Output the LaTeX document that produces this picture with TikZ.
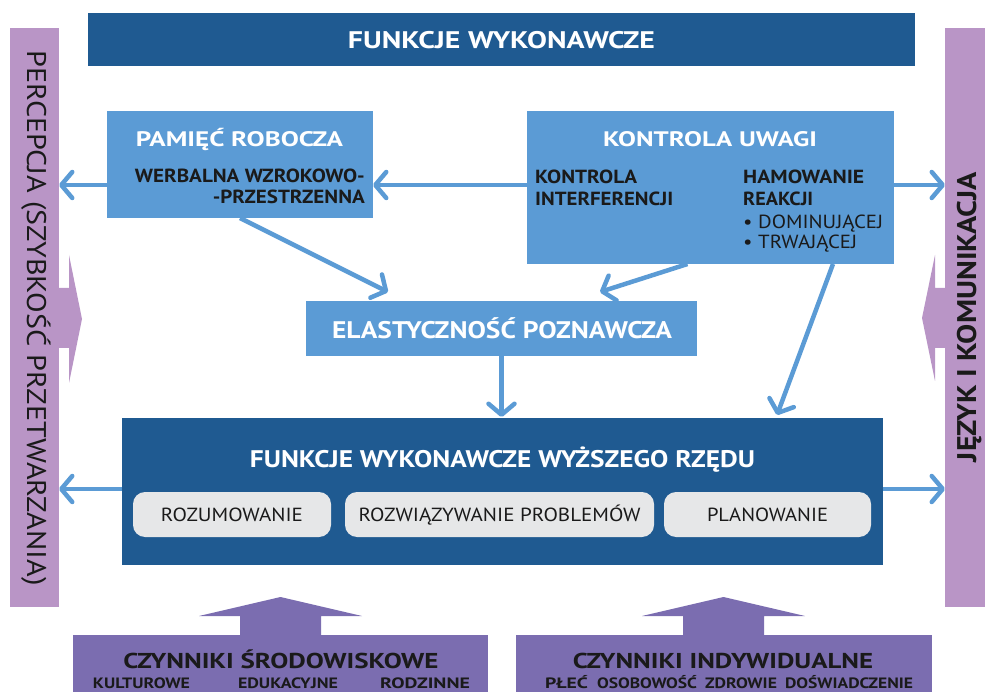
\documentclass[tikz,border=0pt]{standalone}
\usepackage{fontspec}
\setmainfont{PT Sans}
\usepackage{graphicx}
\usetikzlibrary{arrows.meta}
\definecolor{dkblue}{HTML}{1F5A91}
\definecolor{mblue}{HTML}{5B9BD5}
\definecolor{pillc}{HTML}{E6E7E8}
\definecolor{lpurp}{HTML}{B995C6}
\definecolor{dpurp}{HTML}{7B6DB0}
\definecolor{ink}{HTML}{1A1A1A}
\newcommand\fw[2]{\resizebox{#1pt}{\height}{#2}}
\newcommand\fsz[1]{\fontsize{#1}{#1}\selectfont}
\begin{document}
\begin{tikzpicture}[x=1pt,y=-1pt,
  boxn/.style={anchor=north west, inner sep=0pt, outer sep=0pt},
  pillbox/.style={boxn, fill=pillc, rounded corners=12pt, minimum height=45pt},
  wt/.style={text=white, inner sep=0pt, font=\bfseries},
  bt/.style={text=ink, inner sep=0pt},
  conn/.style={draw=mblue, line width=4.5pt,
    -{Straight Barb[length=11pt,width=26pt,line cap=round,line join=round]}}
]
\useasboundingbox (0,0) rectangle (985,692);

% ---------- boxes ----------
\node[boxn, fill=lpurp, minimum width=49pt, minimum height=579pt] (lbar) at (10,28) {};
\node[boxn, fill=lpurp, minimum width=40pt, minimum height=579pt] (rbar) at (945,28) {};
\node[boxn, fill=dkblue, minimum width=827pt, minimum height=53pt] (top) at (88,13) {};
\node[boxn, fill=mblue, minimum width=266pt, minimum height=107pt] (pam) at (107,111) {};
\node[boxn, fill=mblue, minimum width=367pt, minimum height=153pt] (ku) at (527,111) {};
\node[boxn, fill=mblue, minimum width=391pt, minimum height=55pt] (el) at (306,301) {};
\node[boxn, fill=dkblue, minimum width=761pt, minimum height=147pt] (bot) at (122,418) {};
\node[pillbox, minimum width=198pt] (p1) at (133,492) {};
\node[pillbox, minimum width=309pt] (p2) at (345,492) {};
\node[pillbox, minimum width=207pt] (p3) at (664,492) {};
\node[boxn, fill=dpurp, minimum width=415pt, minimum height=60pt] (czs) at (73,635) {};
\node[boxn, fill=dpurp, minimum width=416pt, minimum height=60pt] (czi) at (516,635) {};

% ---------- block arrows ----------
\fill[lpurp] (59,288) -- (69,288) -- (69,255) -- (82,319) -- (69,383) -- (69,348) -- (59,348) -- cycle;
\fill[lpurp] (945,288) -- (935,288) -- (935,255) -- (922,318) -- (935,381) -- (935,348) -- (945,348) -- cycle;
\fill[dpurp] (240,636) -- (240,616) -- (199,616) -- (280.5,597) -- (362,616) -- (321,616) -- (321,636) -- cycle;
\fill[dpurp] (683,636) -- (683,616) -- (642,616) -- (723.5,597) -- (805,616) -- (764,616) -- (764,636) -- cycle;

% ---------- texts ----------
\node[wt, anchor=base] (ttop) at (501.5,49) {\fsz{24}\fw{307}{FUNKCJE WYKONAWCZE}};
\node[wt, anchor=base] (tpam) at (239.5,146.7) {\fsz{21}\fw{207}{PAMIĘĆ ROBOCZA}};
\node[wt, anchor=base] (tku) at (710,147) {\fsz{21}\fw{214}{KONTROLA UWAGI}};
\node[bt, anchor=base east, font=\bfseries] (w1) at (365,182.7) {\fsz{19}\fw{230}{WERBALNA WZROKOWO-}};
\node[bt, anchor=base east, font=\bfseries] (w2) at (365,203.3) {\fsz{19}\fw{152}{-PRZESTRZENNA}};
\node[bt, anchor=base west, font=\bfseries] (k1) at (535,184) {\fsz{19}\fw{102}{KONTROLA}};
\node[bt, anchor=base west, font=\bfseries] (k2) at (535,206) {\fsz{19}\fw{138}{INTERFERENCJI}};
\node[bt, anchor=base west, font=\bfseries] (h1) at (743,184) {\fsz{19}\fw{121}{HAMOWANIE}};
\node[bt, anchor=base west, font=\bfseries] (h2) at (743,206) {\fsz{19}\fw{70}{REAKCJI}};
\node[bt, anchor=base west] (h3) at (743,228.3) {\fsz{19}\fw{140}{• DOMINUJĄCEJ}};
\node[bt, anchor=base west] (h4) at (743,248.3) {\fsz{19}\fw{114}{• TRWAJĄCEJ}};
\node[wt, anchor=base] (tel) at (502,338.3) {\fsz{24}\fw{340}{ELASTYCZNOŚĆ POZNAWCZA}};
\node[wt, anchor=base] (tbot) at (502.5,467.7) {\fsz{24}\fw{505}{FUNKCJE WYKONAWCZE WYŻSZEGO RZĘDU}};
\node[bt, anchor=base] (tp1) at (232,521.7) {\fsz{19}\fw{142}{ROZUMOWANIE}};
\node[bt, anchor=base] (tp2) at (499.5,521.7) {\fsz{19}\fw{282}{ROZWIĄZYWANIE PROBLEMÓW}};
\node[bt, anchor=base] (tp3) at (767.5,521.7) {\fsz{19}\fw{121}{PLANOWANIE}};
\node[bt, anchor=base, font=\bfseries] (tcs) at (281,668.5) {\fsz{21.5}\fw{315}{CZYNNIKI ŚRODOWISKOWE}};
\node[bt, anchor=base, font=\bfseries] (tci) at (723,668.5) {\fsz{21.5}\fw{300}{CZYNNIKI INDYWIDUALNE}};
\node[bt, anchor=base, font=\bfseries] (s1) at (141.5,688.5) {\fsz{15}\fw{97}{KULTUROWE}};
\node[bt, anchor=base, font=\bfseries] (s2) at (288,688.5) {\fsz{15}\fw{100}{EDUKACYJNE}};
\node[bt, anchor=base, font=\bfseries] (s3) at (425,688.5) {\fsz{15}\fw{90}{RODZINNE}};
\node[bt, anchor=base, font=\bfseries] (i1) at (566.5,688.5) {\fsz{15}\fw{43}{PŁEĆ}};
\node[bt, anchor=base, font=\bfseries] (i2) at (647,688.5) {\fsz{15}\fw{100}{OSOBOWOŚĆ}};
\node[bt, anchor=base, font=\bfseries] (i3) at (741,688.5) {\fsz{15}\fw{72}{ZDROWIE}};
\node[bt, anchor=base, font=\bfseries] (i4) at (849,688.5) {\fsz{15}\fw{128}{DOŚWIADCZENIE}};
\node[bt, anchor=base, rotate=-90] (tl) at (27,318) {\fsz{27}\fw{535}{PERCEPCJA (SZYBKOŚĆ PRZETWARZANIA)}};
\node[bt, anchor=base, rotate=90, font=\bfseries] (tr) at (976,317) {\fsz{27}\fw{290}{JĘZYK I KOMUNIKACJA}};

% ---------- connectors ----------
\coordinate (yA) at (0,185);
\coordinate (eL) at (388,292);
\coordinate (eR) at (600,292);
\coordinate (bR) at (777,415);
\draw[conn] (pam.west |- yA) -- (lbar.east |- yA);
\draw[conn] (ku.west |- yA) -- (pam.east |- yA);
\draw[conn] (ku.east |- yA) -- (rbar.west |- yA);
\draw[conn] (pam.south) -- (eL);
\draw[conn] ([xshift=-23pt]ku.south) -- (eR);
\draw[conn] ([xshift=122.5pt]ku.south) -- (bR);
\draw[conn] (el.south) -- ([yshift=1pt]el.south |- bot.north);
\coordinate (yB) at (0,489);
\draw[conn] (bot.west |- yB) -- (lbar.east |- yB);
\draw[conn] (bot.east |- yB) -- (rbar.west |- yB);
\end{tikzpicture}
\end{document}
